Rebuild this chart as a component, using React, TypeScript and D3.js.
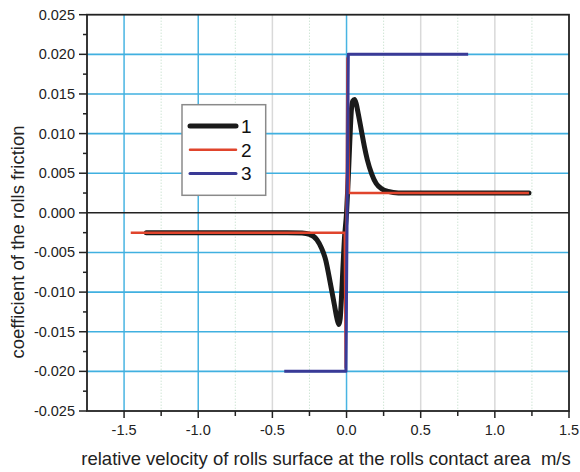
import React from "react";
import * as d3 from "d3";

const xTicks = [-1.5, -1.0, -0.5, 0.0, 0.5, 1.0, 1.5];
const xMinor = [-1.75, -1.25, -0.75, -0.25, 0.25, 0.75, 1.25];
const yTicks = [0.025, 0.02, 0.015, 0.01, 0.005, 0, -0.005, -0.01, -0.015, -0.02, -0.025];
const yMinor = [0.0225, 0.0175, 0.0125, 0.0075, 0.0025, -0.0025, -0.0075, -0.0125, -0.0175, -0.0225];
const blueVertical = [-1.5, -1.0, 0.0];
const greyVertical = [-0.5, 0.5, 1.0];

// series 1 (black)
const s1x = [-1.35, -0.4, -0.3, -0.25, -0.2, -0.17, -0.14, -0.12, -0.1, -0.08, -0.065, -0.052, -0.043, -0.035, -0.025, -0.015, 0, 0.012, 0.022, 0.032, 0.042, 0.054, 0.066, 0.08, 0.1, 0.12, 0.14, 0.17, 0.2, 0.24, 0.28, 0.35, 1.23];
const s1y = [-0.0025, -0.0025, -0.00255, -0.0027, -0.0034, -0.0044, -0.006, -0.0078, -0.0098, -0.0118, -0.0133, -0.0141, -0.0134, -0.011, -0.0072, -0.0035, 0.0, 0.0045, 0.009, 0.0128, 0.0141, 0.0143, 0.0137, 0.0124, 0.0104, 0.0084, 0.0067, 0.0049, 0.0037, 0.003, 0.0027, 0.0025, 0.0025];
// series 2 (red)
const s2x = [-1.455, -0.012, -0.006, 0.006, 0.016, 1.23];
const s2y = [-0.0025, -0.0025, -0.0195, 0.0195, 0.0025, 0.0025];
// series 3 (blue)
const s3x = [-0.42, -0.004, 0.012, 0.82];
const s3y = [-0.02, -0.02, 0.02, 0.02];

const legendLabels = ["1", "2", "3"];
const colors = ["#1a1a1a", "#e0442c", "#3a3a96"];
const widths = [5, 2.5, 3];

export default function App() {
  const W = 580, H = 472;
  const x = d3.scaleLinear().domain([-1.75, 1.5]).range([87, 569]);
  const y = d3.scaleLinear().domain([-0.025, 0.025]).range([411, 14.7]);
  const line1 = d3.line<number>().x((_, i) => x(s1x[i])).y((d) => y(d)).curve(d3.curveMonotoneX);
  const lineL = (xs: number[]) => d3.line<number>().x((_, i) => x(xs[i])).y((d) => y(d));
  const [x0, x1] = x.range();
  const [y0, y1] = y.range();
  const font = "Liberation Sans, Arial, sans-serif";
  return (
    <svg width={W} height={H} style={{ position: "absolute", left: 0, top: 0, background: "#fff" }} fontFamily={font}>
      {/* minor dotted vertical grid */}
      {xMinor.filter((v) => v > -1.75).map((v) => (
        <line key={"mv" + v} x1={x(v)} x2={x(v)} y1={y1} y2={y0} stroke="#b9d9c2" strokeWidth={1} strokeDasharray="1,2" />
      ))}
      {greyVertical.map((v) => (
        <line key={"gv" + v} x1={x(v)} x2={x(v)} y1={y1} y2={y0} stroke="#d9d9d9" strokeWidth={1.5} />
      ))}
      {blueVertical.map((v) => (
        <line key={"bv" + v} x1={x(v)} x2={x(v)} y1={y1} y2={y0} stroke="#48b4e2" strokeWidth={1.5} />
      ))}
      {yTicks.filter((v) => v !== 0 && Math.abs(v) < 0.025).map((v) => (
        <line key={"hg" + v} x1={x0} x2={x1} y1={y(v)} y2={y(v)} stroke="#40b0e0" strokeWidth={1.6} />
      ))}
      <line x1={x0} x2={x1} y1={y(0)} y2={y(0)} stroke="#222" strokeWidth={1.5} />
      {/* frame */}
      <rect x={x0} y={y1} width={x1 - x0} height={y0 - y1} fill="none" stroke="#222" strokeWidth={1.8} />
      {/* series */}
      <path d={line1(s1y) || ""} fill="none" stroke={colors[0]} strokeWidth={widths[0]} strokeLinejoin="round" strokeLinecap="round" />
      <path d={lineL(s2x)(s2y) || ""} fill="none" stroke={colors[1]} strokeWidth={widths[1]} strokeLinejoin="round" />
      <path d={lineL(s3x)(s3y) || ""} fill="none" stroke={colors[2]} strokeWidth={widths[2]} strokeLinejoin="round" />
      {/* x ticks */}
      {xTicks.map((v) => (
        <g key={"xt" + v}>
          <line x1={x(v)} x2={x(v)} y1={y0} y2={y0 + 7} stroke="#222" strokeWidth={1.5} />
          <text x={x(v)} y={y0 + 24} fontSize={14.5} textAnchor="middle" fill="#222">{v.toFixed(1)}</text>
        </g>
      ))}
      {xMinor.filter((v) => v > -1.75).map((v) => (
        <line key={"xm" + v} x1={x(v)} x2={x(v)} y1={y0} y2={y0 + 5} stroke="#222" strokeWidth={1.5} />
      ))}
      {/* y ticks */}
      {yTicks.map((v) => (
        <g key={"yt" + v}>
          <line x1={x0} x2={x0 - 8} y1={y(v)} y2={y(v)} stroke="#222" strokeWidth={1.5} />
          <text x={x0 - 12} y={y(v) + 5} fontSize={14.5} textAnchor="end" fill="#222">{v.toFixed(3)}</text>
        </g>
      ))}
      {yMinor.map((v) => (
        <line key={"ym" + v} x1={x0} x2={x0 - 4} y1={y(v)} y2={y(v)} stroke="#222" strokeWidth={1.5} />
      ))}
      {/* axis titles */}
      <text x={326} y={465} fontSize={18.5} textAnchor="middle" fill="#222" style={{ whiteSpace: "pre" }}>relative velocity of rolls surface at the rolls contact area  m/s</text>
      <text transform={`translate(24, 242) rotate(-90)`} fontSize={18.5} textAnchor="middle" fill="#222">coefficient of the rolls friction</text>
      {/* legend */}
      <rect x={182} y={104.7} width={83.7} height={90.6} fill="#fff" stroke="#8a8a8a" strokeWidth={1.5} />
      {legendLabels.map((l, i) => (
        <g key={"lg" + l}>
          <line x1={190} x2={236} y1={126 + i * 23.7} y2={126 + i * 23.7} stroke={colors[i]} strokeWidth={widths[i]} strokeLinecap="round" />
          <text x={241} y={126 + i * 23.7 + 7} fontSize={19} fill="#111">{l}</text>
        </g>
      ))}
    </svg>
  );
}
